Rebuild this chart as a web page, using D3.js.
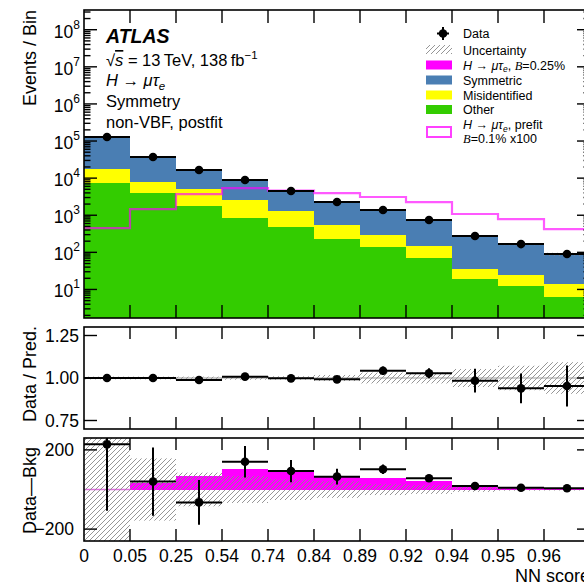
<!DOCTYPE html>
<html><head><meta charset="utf-8">
<script src="https://cdn.jsdelivr.net/npm/d3@7"></script>
<style>body{margin:0;background:#fff}svg{display:block;font-family:"Liberation Sans",Arial,Helvetica,sans-serif}</style>
</head><body><svg id="c" width="584" height="587"></svg>
<script>
// ---------- data ----------
const edgeLabels = ["0","0.05","0.25","0.54","0.74","0.84","0.89","0.92","0.94","0.95","0.96"];
const other    = [7400, 3960, 1770, 840, 480, 228, 139, 70, 19, 12.4, 6.2];
const misid    = [10200, 3890, 3310, 1730, 820, 317, 153, 78, 16.5, 12, 7.8];
const symmetric= [110000, 29200, 11500, 6190, 3100, 1660, 986, 538, 222, 134, 70];
const signal   = [5, 35, 70, 102, 93, 70, 57, 43, 19, 8, 5];
const dataVals = [128000, 37100, 16500, 8900, 4490, 2270, 1380, 743, 275, 167, 90];
const prefit   = [452, 1470, 3730, 5410, 4600, 3960, 3100, 2270, 1080, 790, 425];
const ratio    = [1.000, 1.000, 0.988, 1.008, 0.998, 0.992, 1.043, 1.028, 0.984, 0.939, 0.953];
const ratioErr = [0.003, 0.006, 0.008, 0.011, 0.015, 0.02, 0.025, 0.03, 0.07, 0.088, 0.12];
const ratioUnc = [0.008, 0.008, 0.008, 0.01, 0.01, 0.018, 0.032, 0.032, 0.053, 0.072, 0.093];
const dataBkg    = [228, 40, -65, 140, 93, 65, 102, 57, 18, 9, 6];
const dataBkgErr = [335, 172, 113, 80, 56, 40, 24, 14, 8, 6, 5];
const bkgUnc     = [300, 157, 85, 68, 53, 42, 28, 22, 12, 6, 5];
const logTicks = [1, 2, 3, 4, 5, 6, 7, 8];
const ratioTicks = [0.75, 1.0, 1.25];
const diffTicks = [-200, 200];

// ---------- layout ----------
const L = 84, R = 590;
const P1 = {t: 10, b: 318}, P2 = {t: 327, b: 429}, P3 = {t: 438, b: 541};
const nb = dataVals.length;
const bins = d3.range(nb);
const x = d3.scaleLinear().domain([0, nb]).range([L, R]);
const yTop = d3.scaleLog().domain([1.7, 3.4e8]).range([P1.b, P1.t]);
const yRat = d3.scaleLinear().domain([0.7, 1.3]).range([P2.b, P2.t]);
const yDif = d3.scaleLinear().domain([-260, 260]).range([P3.b, P3.t]);
const colors = {other: "#33cc00", misid: "#ffff00", sym: "#4a7eb3", signal: "#ff00ff"};

const svg = d3.select("#c");
const defs = svg.append("defs");
const pat = defs.append("pattern").attr("id", "hatch").attr("patternUnits", "userSpaceOnUse")
  .attr("width", 5).attr("height", 5);
pat.append("path").attr("d", "M-1,1 L1,-1 M0,5 L5,0 M4,6 L6,4")
  .attr("stroke", "#8a8a8a").attr("stroke-width", 0.9);
[P1, P2, P3].forEach((p, k) => {
  defs.append("clipPath").attr("id", "clip" + k).append("rect")
    .attr("x", L).attr("y", p.t).attr("width", R - L).attr("height", p.b - p.t);
});

function safeY(v) { return v <= 0 ? P1.b + 5 : yTop(v); }

// ---------- top panel ----------
const g1 = svg.append("g").attr("clip-path", "url(#clip0)");
const rows = bins.map(i => ({other: other[i], misid: misid[i], sym: symmetric[i], signal: signal[i]}));
const series = d3.stack().keys(["other", "misid", "sym", "signal"])(rows);
series.forEach(s => {
  g1.append("g").selectAll("rect").data(s).join("rect")
    .attr("x", (d, i) => x(i)).attr("width", (d, i) => x(i + 1) - x(i))
    .attr("y", d => yTop(d[1])).attr("height", d => safeY(d[0]) - yTop(d[1]))
    .attr("fill", colors[s.key]).attr("shape-rendering", "crispEdges");
});
const totals = bins.map(i => other[i] + misid[i] + symmetric[i] + signal[i]);
g1.append("g").selectAll("rect").data(bins).join("rect")
  .attr("x", i => x(i)).attr("width", i => x(i + 1) - x(i))
  .attr("y", i => yTop(totals[i] * (1 + ratioUnc[i])))
  .attr("height", i => yTop(totals[i] * (1 - ratioUnc[i])) - yTop(totals[i] * (1 + ratioUnc[i])))
  .attr("fill", "url(#hatch)");
const stepPts = bins.map(i => [i, prefit[i]]).concat([[nb, prefit[nb - 1]]]);
g1.append("path").datum(stepPts)
  .attr("d", d3.line().x(d => x(d[0])).y(d => yTop(d[1])).curve(d3.curveStepAfter))
  .attr("fill", "none").attr("stroke", "#ff00ff").attr("stroke-opacity", 0.65).attr("stroke-width", 2.2);
function drawPoints(g, vals, errs, ys) {
  const pg = g.append("g");
  bins.forEach(i => {
    const cx = x(i + 0.5), cy = ys(vals[i]);
    pg.append("line").attr("x1", x(i)).attr("x2", x(i + 1)).attr("y1", cy).attr("y2", cy)
      .attr("stroke", "#000").attr("stroke-width", 2);
    if (errs) pg.append("line").attr("x1", cx).attr("x2", cx)
      .attr("y1", ys(vals[i] - errs[i])).attr("y2", ys(vals[i] + errs[i]))
      .attr("stroke", "#000").attr("stroke-width", 2);
    pg.append("circle").attr("cx", cx).attr("cy", cy).attr("r", 4.3).attr("fill", "#000");
  });
}
drawPoints(g1, dataVals, bins.map(i => dataVals[i] * ratioErr[i]), yTop);

// ---------- middle panel ----------
const g2 = svg.append("g").attr("clip-path", "url(#clip1)");
g2.append("g").selectAll("rect").data(bins).join("rect")
  .attr("x", i => x(i)).attr("width", i => x(i + 1) - x(i))
  .attr("y", i => yRat(1 + ratioUnc[i])).attr("height", i => yRat(1 - ratioUnc[i]) - yRat(1 + ratioUnc[i]))
  .attr("fill", "url(#hatch)");
g2.append("line").attr("x1", L).attr("x2", R).attr("y1", yRat(1)).attr("y2", yRat(1))
  .attr("stroke", "#999").attr("stroke-width", 1);
drawPoints(g2, ratio, ratioErr, yRat);

// ---------- bottom panel ----------
const g3 = svg.append("g").attr("clip-path", "url(#clip2)");
g3.append("g").selectAll("rect").data(bins).join("rect")
  .attr("x", i => x(i)).attr("width", i => x(i + 1) - x(i))
  .attr("y", i => yDif(signal[i])).attr("height", i => Math.max(1.5, yDif(0) - yDif(signal[i])))
  .attr("fill", "#ff00ff").attr("shape-rendering", "crispEdges");
g3.append("line").attr("x1", L).attr("x2", x(1)).attr("y1", yDif(0)).attr("y2", yDif(0))
  .attr("stroke", "#e070e0").attr("stroke-width", 1.5);
g3.append("g").selectAll("rect").data(bins).join("rect")
  .attr("x", i => x(i)).attr("width", i => x(i + 1) - x(i))
  .attr("y", i => yDif(bkgUnc[i])).attr("height", i => yDif(-bkgUnc[i]) - yDif(bkgUnc[i]))
  .attr("fill", "url(#hatch)");
drawPoints(g3, dataBkg, dataBkgErr, yDif);

// ---------- frames & ticks ----------
const ax = svg.append("g").attr("stroke", "#000").attr("fill", "none");
function frame(p, tl) {
  ax.append("rect").attr("x", L).attr("y", p.t).attr("width", R - L).attr("height", p.b - p.t)
    .attr("stroke-width", 1.6);
  d3.range(1, nb).forEach(i => {
    ax.append("line").attr("x1", x(i)).attr("x2", x(i)).attr("y1", p.t).attr("y2", p.t + tl).attr("stroke-width", 1.4);
    ax.append("line").attr("x1", x(i)).attr("x2", x(i)).attr("y1", p.b).attr("y2", p.b - tl).attr("stroke-width", 1.4);
  });
}
frame(P1, 13); frame(P2, 12); frame(P3, 12);
function yTick(yy, len) {
  ax.append("line").attr("x1", L).attr("x2", L + len).attr("y1", yy).attr("y2", yy).attr("stroke-width", 1.4);
  ax.append("line").attr("x1", R).attr("x2", R - len).attr("y1", yy).attr("y2", yy).attr("stroke-width", 1.4);
}
for (let d = 0; d <= 8; d++) {
  for (let m = 1; m <= 9; m++) {
    const v = m * Math.pow(10, d);
    if (v < yTop.domain()[0] || v > yTop.domain()[1]) continue;
    yTick(yTop(v), m === 1 ? 13 : 6.5);
  }
}
ratioTicks.forEach(v => yTick(yRat(v), 13));
diffTicks.forEach(v => yTick(yDif(v), 13));

// ---------- tick labels ----------
const tx = svg.append("g").attr("fill", "#000");
logTicks.forEach(e => {
  const t = tx.append("text").attr("x", 80).attr("y", yTop(Math.pow(10, e)) + 8)
    .attr("text-anchor", "end").attr("font-size", 17.5);
  t.append("tspan").text("10");
  t.append("tspan").attr("dy", -9).attr("font-size", 12).text(e);
});
ratioTicks.forEach(v => tx.append("text").attr("x", 79).attr("y", yRat(v) + 6.3)
  .attr("text-anchor", "end").attr("font-size", 17.5).text(d3.format(".2f")(v)));
diffTicks.forEach(v => tx.append("text").attr("x", 74).attr("y", yDif(v) + 6.3)
  .attr("text-anchor", "end").attr("font-size", 17.5).text(v < 0 ? "\u2212" + (-v) : v));
edgeLabels.forEach((lab, i) => tx.append("text").attr("x", x(i)).attr("y", 562)
  .attr("text-anchor", "middle").attr("font-size", 17.5).text(lab));

// ---------- axis titles ----------
function vtitle(txt, xx, yy) {
  tx.append("text").attr("transform", `translate(${xx},${yy}) rotate(-90)`)
    .attr("text-anchor", "end").attr("font-size", 18).text(txt);
}
vtitle("Events / Bin", 36, 10);
vtitle("Data / Pred.", 36, 326);
vtitle("Data\u2014Bkg", 36, 447);
tx.append("text").attr("x", 590).attr("y", 582).attr("text-anchor", "end").attr("font-size", 18).text("NN score");

// ---------- labels top-left ----------
tx.append("text").attr("x", 106).attr("y", 43).attr("font-size", 19.5)
  .attr("font-weight", "bold").attr("font-style", "italic").text("ATLAS");
const t2 = tx.append("text").attr("x", 106).attr("y", 66).attr("font-size", 16.5);
t2.append("tspan").text("\u221A");
t2.append("tspan").attr("font-style", "italic").attr("text-decoration", "overline").text("s");
t2.append("tspan").text(" = 13\u2009TeV, 138\u2009fb");
t2.append("tspan").attr("dy", -7).attr("font-size", 11.5).text("\u22121");
const t3 = tx.append("text").attr("x", 106).attr("y", 86).attr("font-size", 16.5);
t3.append("tspan").attr("font-style", "italic").text("H");
t3.append("tspan").text(" \u2192 ");
t3.append("tspan").attr("font-style", "italic").text("\u03BC\u03C4");
t3.append("tspan").attr("dy", 4).attr("font-size", 11.5).attr("font-style", "italic").text("e");
tx.append("text").attr("x", 106).attr("y", 107).attr("font-size", 16.5).text("Symmetry");
tx.append("text").attr("x", 106).attr("y", 128).attr("font-size", 16.5).text("non-VBF, postfit");

// ---------- legend ----------
const lg = svg.append("g").attr("font-size", 12.5);
const sx = 426, sw = 26, txx = 463;
const scriptB = "font-family:'Liberation Serif',serif;font-style:italic";
// data
lg.append("circle").attr("cx", sx + 17).attr("cy", 33.5).attr("r", 4.3).attr("fill", "#000");
lg.append("line").attr("x1", sx + 17).attr("x2", sx + 17).attr("y1", 27).attr("y2", 40).attr("stroke", "#000").attr("stroke-width", 2);
lg.append("line").attr("x1", sx + 11).attr("x2", sx + 23).attr("y1", 33.5).attr("y2", 33.5).attr("stroke", "#000").attr("stroke-width", 2);
lg.append("text").attr("x", txx).attr("y", 38).text("Data");
lg.append("rect").attr("x", sx).attr("y", 45).attr("width", sw).attr("height", 9).attr("fill", "url(#hatch)");
lg.append("text").attr("x", txx).attr("y", 54.5).text("Uncertainty");
const sw1 = [["signal", 65], ["sym", 80], ["misid", 95], ["other", 109.5]];
sw1.forEach(([k, cy]) => lg.append("rect").attr("x", sx).attr("y", cy - 4.5).attr("width", sw).attr("height", 9).attr("fill", colors[k]));
const l3 = lg.append("text").attr("x", txx).attr("y", 69.5);
l3.append("tspan").attr("font-style", "italic").text("H");
l3.append("tspan").text(" \u2192 ");
l3.append("tspan").attr("font-style", "italic").text("\u03BC\u03C4");
l3.append("tspan").attr("dy", 2.5).attr("font-size", 8.5).attr("font-style", "italic").text("e");
l3.append("tspan").attr("dy", -2.5).text(", ");
l3.append("tspan").attr("style", scriptB).text("B");
l3.append("tspan").text("=0.25%");
lg.append("text").attr("x", txx).attr("y", 84.5).text("Symmetric");
lg.append("text").attr("x", txx).attr("y", 99.5).text("Misidentified");
lg.append("text").attr("x", txx).attr("y", 114).text("Other");
lg.append("rect").attr("x", sx + 1).attr("y", 127).attr("width", sw - 2).attr("height", 10)
  .attr("fill", "#fff").attr("stroke", "#ff00ff").attr("stroke-opacity", 0.75).attr("stroke-width", 2);
const l7 = lg.append("text").attr("x", txx).attr("y", 129);
l7.append("tspan").attr("font-style", "italic").text("H");
l7.append("tspan").text(" \u2192 ");
l7.append("tspan").attr("font-style", "italic").text("\u03BC\u03C4");
l7.append("tspan").attr("dy", 2.5).attr("font-size", 8.5).attr("font-style", "italic").text("e");
l7.append("tspan").attr("dy", -2.5).text(", prefit");
const l8 = lg.append("text").attr("x", txx).attr("y", 143);
l8.append("tspan").attr("style", scriptB).text("B");
l8.append("tspan").text("=0.1% x100");
</script></body></html>
